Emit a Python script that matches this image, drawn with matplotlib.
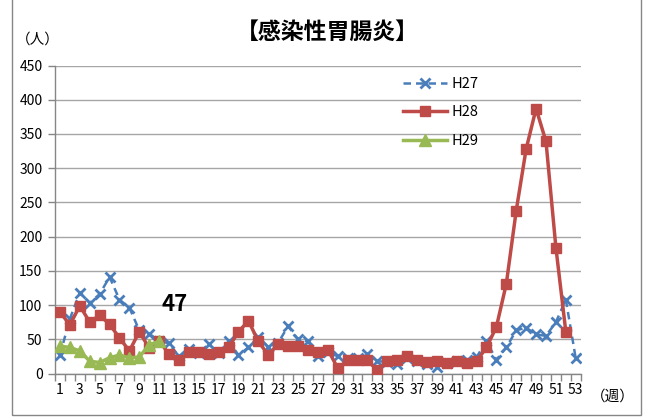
import matplotlib
matplotlib.use("Agg")
import matplotlib.pyplot as plt
import numpy as np

plt.rcParams['font.family'] = ['Noto Sans CJK JP', 'DejaVu Sans']

weeks = list(range(1, 54))
h27 = [27, 80, 118, 103, 116, 141, 108, 96, 63, 58, 48, 44, 25, 36, 30, 43, 30, 47, 27, 38,
       53, 39, 45, 69, 50, 47, 26, 32, 25, 22, 23, 28, 18, 17, 14, 22, 18, 14, 10, 16,
       18, 20, 24, 47, 20, 38, 63, 67, 57, 55, 75, 108, 22]
h28 = [90, 71, 99, 75, 85, 72, 52, 33, 61, 37, 48, 28, 19, 31, 32, 29, 31, 38, 61, 77,
       47, 27, 43, 40, 40, 35, 32, 35, 8, 19, 19, 19, 5, 18, 19, 26, 20, 17, 18, 16,
       18, 15, 18, 38, 68, 131, 238, 328, 387, 339, 184, 61]
h29 = [40, 38, 33, 18, 16, 23, 27, 23, 24, 42, 47]
series_names = ["H27", "H28", "H29"]
yticks = [0, 50, 100, 150, 200, 250, 300, 350, 400, 450]
xlabels = [str(w) for w in weeks if w % 2 == 1]
annot = "47"

W, H = 651, 417
fig = plt.figure(figsize=(W / 100, H / 100), dpi=100)
ax = fig.add_axes([55 / W, 1 - 373.5 / H, (580.7 - 55) / W, (373.5 - 65.5) / H])

blue = "#4A7EBB"
red = "#BE4B48"
green = "#98B954"

ax.plot(weeks[:len(h27)], h27, color=blue, linestyle=(0, (3, 2)), linewidth=1.8,
        marker="x", markersize=7, markeredgewidth=2, label=series_names[0], zorder=3)
ax.plot(weeks[:len(h28)], h28, color=red, linestyle="-", linewidth=2.5,
        marker="s", markersize=7, label=series_names[1], zorder=4)
ax.plot(weeks[:len(h29)], h29, color=green, linestyle="-", linewidth=2.5,
        marker="^", markersize=8, label=series_names[2], zorder=5)

ax.set_xlim(0.5, 53.5)
ax.set_ylim(0, 450)
ax.set_yticks(yticks)
ax.set_yticklabels([str(v) for v in yticks], fontsize=10)
ax.yaxis.grid(True, color="#A6A6A6", linewidth=1)
ax.set_axisbelow(True)

ax.set_xticks([w for w in weeks if w % 2 == 1])
ax.set_xticklabels(xlabels, fontsize=10)
ax.tick_params(axis="x", which="major", length=0, pad=7)
ax.set_xticks(np.arange(0.5, 54.0, 1.0), minor=True)
ax.tick_params(axis="x", which="minor", length=5, color="#868686", width=1, direction="out")
ax.tick_params(axis="y", length=5, color="#868686", width=1, pad=4)

for s in ["top", "right"]:
    ax.spines[s].set_visible(False)
for s in ["left", "bottom"]:
    ax.spines[s].set_color("#868686")
    ax.spines[s].set_linewidth(1)

ax.text(11.2, 101, annot, fontsize=16, fontweight="bold", ha="left", va="center")

leg = ax.legend(loc="upper left", bbox_to_anchor=(335 / (580.7 - 55), 1 + 2 / 308),
                frameon=False, fontsize=10.5, handlelength=3.0, labelspacing=1.0,
                handletextpad=0.3)

fig.text(327 / W, 1 - 32 / H, "【感染性胃腸炎】", fontsize=16.5, fontweight="bold",
         ha="center", va="center")
fig.text(38 / W, 1 - 40 / H, "（人）", fontsize=10.5, ha="center", va="center")
fig.text(613 / W, 1 - 397 / H, "（週）", fontsize=10.5, ha="center", va="center")

rect = plt.Rectangle((12 / W, 1 - 415 / H), (641 - 12) / W, 415 / H + 0.05,
                     transform=fig.transFigure, fill=False, edgecolor="#868686",
                     linewidth=1, clip_on=False)
fig.patches.append(rect)

fig.savefig("out.png", dpi=100)
